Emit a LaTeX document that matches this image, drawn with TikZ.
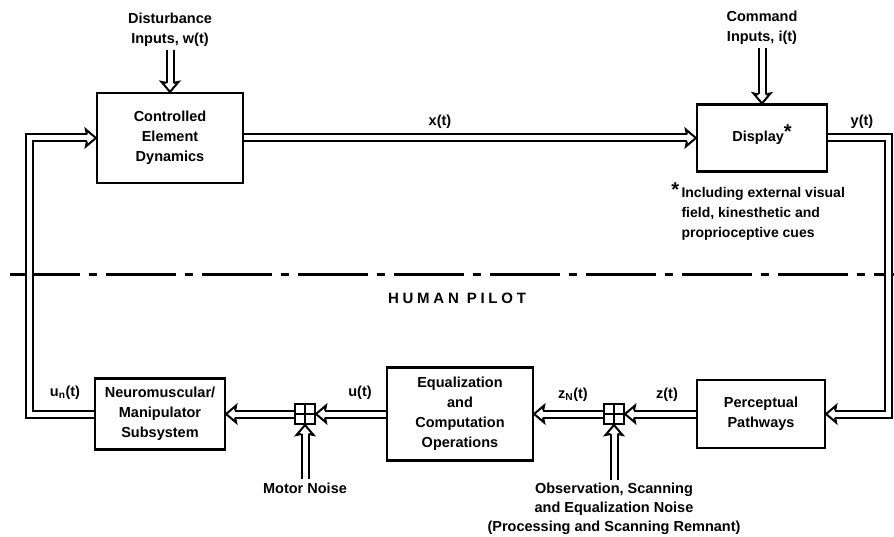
\documentclass[tikz,border=0pt]{standalone}
\usepackage{fontspec}
\setmainfont{Liberation Sans}
\newfontfamily\pilotfont[LetterSpace=25]{Liberation Sans}
\usetikzlibrary{arrows.meta, positioning, calc, decorations.markings}

\tikzset{
  block/.style={draw, line width=2.2pt, align=center, inner sep=2pt},
  sig/.style={double, double distance=5pt, line width=2pt, shorten >=9pt,
    postaction={decorate, decoration={markings, mark=at position 1 with {
      \draw[line width=2pt, shorten >=0pt, miter limit=20]
        (-9pt,3.5pt) -- (-10pt,8.5pt) -- (0pt,0pt) -- (-10pt,-8.5pt) -- (-9pt,-3.5pt);}}}},
  sumbox/.style={draw, line width=2pt, minimum size=20pt, inner sep=0pt,
    path picture={\draw[line width=2pt]
      (path picture bounding box.north) -- (path picture bounding box.south)
      (path picture bounding box.west) -- (path picture bounding box.east);}},
  lbl/.style={inner sep=1pt},
}

\begin{document}
\begin{tikzpicture}[x=1pt, y=-1pt, font=\fontsize{14.5}{20}\selectfont\bfseries]
  \useasboundingbox (0,0) rectangle (894,537);
  % plant side
  \node[block, minimum width=146pt, minimum height=90pt] (ced) at (170,138) {Controlled\\Element\\Dynamics};
  \node[block, minimum width=130pt, minimum height=67pt] (disp) at (762,138) {Display\smash{\raisebox{3pt}{\fontsize{20}{20}\selectfont*}}};
  \node[align=center] (dist) at (170,30) {Disturbance\\Inputs, w(t)};
  \node[align=center] (cmd) at (762,28) {Command\\Inputs, i(t)};
  \node[align=left, anchor=north west, font=\fontsize{14}{20}\selectfont\bfseries] (note) at (678,184)
    {\llap{\smash{\raisebox{1pt}{\fontsize{20}{20}\selectfont*}}\,}Including external visual\\field, kinesthetic and\\proprioceptive cues};
  % divider
  \draw[line width=3pt, dash pattern=on 70pt off 9pt on 8pt off 9pt] (10,275) -- (894,275);
  \node[font=\fontsize{15}{18}\selectfont\pilotfont\bfseries] (pilot) at (457,298) {HUMAN PILOT};
  % human pilot side
  \node[block, minimum width=130pt, minimum height=71pt] (nms) at (160,414) {Neuromuscular/\\Manipulator\\Subsystem};
  \node[sumbox] (sumA) at (305,414) {};
  \node[block, minimum width=146pt, minimum height=93pt] (eqn) at (460,414) {Equalization\\and\\Computation\\Operations};
  \node[sumbox] (sumB) at (614,414) {};
  \node[block, minimum width=128pt, minimum height=68pt] (perc) at (761,414) {Perceptual\\Pathways};
  \node[align=center] (motor) at (305,488) {Motor Noise};
  \node[align=center, font=\fontsize{14.5}{19}\selectfont\bfseries] (obs) at (614,509) {Observation, Scanning\\and Equalization Noise\\(Processing and Scanning Remnant)};
  % signal labels
  \node[lbl] (xt) at (440,122) {x(t)};
  \node[lbl] (yt) at (862,122) {y(t)};
  \node[lbl] (unt) at (65,393) {u\textsubscript{n}(t)};
  \node[lbl] (ut) at (360,393) {u(t)};
  \node[lbl] (znt) at (573,395) {z\textsubscript{N}(t)};
  \node[lbl] (zt) at (667,395) {z(t)};
  % feedback corners
  \coordinate (fbL) at (29,0);
  \coordinate (fbR) at (888,0);
  % connectors
  \draw[sig] (dist.south) -- (ced.north);
  \draw[sig] (cmd.south) -- (disp.north);
  \draw[sig] (ced.east) -- (disp.west);
  \draw[sig] (disp.east) -| (fbR |- perc.east) -- (perc.east);
  \draw[sig] (perc.west) -- (sumB.east);
  \draw[sig] (obs.north) -- (sumB.south);
  \draw[sig] (sumB.west) -- (eqn.east);
  \draw[sig] (eqn.west) -- (sumA.east);
  \draw[sig] (motor.north) -- (sumA.south);
  \draw[sig] (sumA.west) -- (nms.east);
  \draw[sig] (nms.west) -| (fbL |- ced.west) -- (ced.west);
\end{tikzpicture}
\end{document}
